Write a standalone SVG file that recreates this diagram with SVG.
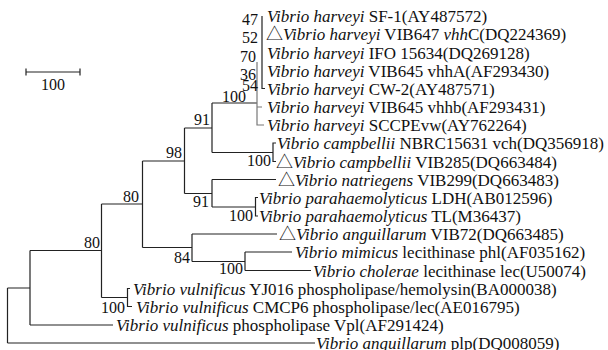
<svg xmlns="http://www.w3.org/2000/svg" width="608" height="350" viewBox="0 0 608 350">
<style>
.t{font-family:"Liberation Serif","Times New Roman",serif;font-size:17px;fill:#111}
.i{font-style:italic}
.tri{font-family:"Noto Sans CJK SC","DejaVu Sans",sans-serif;font-style:normal}
.b{font-family:"Liberation Serif","Times New Roman",serif;font-size:16px;fill:#111;text-anchor:end}
.l{fill:none;stroke:#222;stroke-width:1.2}
.g{fill:none;stroke:#777;stroke-width:1.2}
</style>
<rect width="608" height="350" fill="#fff"/>
<g id="scale">
<path class="l" d="M26,72 H80 M26,68.5 V75.5 M80,68.5 V75.5"/>
<text class="b" x="53" y="90" style="text-anchor:middle">100</text>
</g>
<g id="connectors">
<path class="l" d="M7.5,288 V343 M7.5,288 H30 M7.5,343 H315"/>
<path class="l" d="M30,250.5 V325 M30,250.5 H101.5 M30,325 H113"/>
<path class="l" d="M101.5,204 V297.5 M101.5,204 H142.5 M101.5,297.5 H127.5"/>
<path class="l" d="M130,288.5 H127.5 V306.5 H132"/>
<path class="l" d="M142.5,161 V247.5 M142.5,161 H184.5 M142.5,247.5 H192"/>
<path class="l" d="M184.5,128 V193.5 M184.5,128 H212 M184.5,193.5 H212"/>
<path class="l" d="M212,103 V152.5 M212,103 H257 M212,152.5 H273"/>
<path class="l" d="M276,143 H273 V161.5 H276"/>
<path class="g" d="M257,62 V125 H264 M257,107 H262"/>
<path class="l" d="M262,16 V88.5 H265"/>
<path class="l" d="M212,179.5 V207 M212,179.5 H276 M212,207 H255.5"/>
<path class="l" d="M258,197.5 H255.5 V216 H258"/>
<path class="l" d="M192,234 V261.5 M192,234 H277 M192,261.5 H245"/>
<path class="l" d="M245,252 V270.5 M245,252 H292 M245,270.5 H311"/>
</g>
<g id="bootstrap">
<text class="b" x="258" y="25">47</text>
<text class="b" x="258" y="43">52</text>
<text class="b" x="256" y="62">70</text>
<text class="b" x="256" y="80">36</text>
<text class="b" x="258" y="91">54</text>
<text class="b" x="246" y="102">100</text>
<text class="b" x="210" y="125">91</text>
<text class="b" x="271" y="166">100</text>
<text class="b" x="182" y="158">98</text>
<text class="b" x="209" y="207">91</text>
<text class="b" x="253" y="221">100</text>
<text class="b" x="139" y="202">80</text>
<text class="b" x="190" y="263">84</text>
<text class="b" x="243" y="274">100</text>
<text class="b" x="100" y="248">80</text>
<text class="b" x="125" y="313">100</text>
</g>
<g id="taxa">
<text id="n0" class="t" x="267" y="22"><tspan class="i">Vibrio harveyi</tspan> SF-1(AY487572)</text>
<text id="n1" class="t" x="266" y="40"><tspan class="tri">△</tspan><tspan class="i">Vibrio harveyi</tspan> VIB647 <tspan class="i">vhh</tspan>C(DQ224369)</text>
<text id="n2" class="t" x="267" y="58.5"><tspan class="i">Vibrio harveyi</tspan> IFO 15634(DQ269128)</text>
<text id="n3" class="t" x="267" y="76.5"><tspan class="i">Vibrio harveyi</tspan> VIB645 vhhA(AF293430)</text>
<text id="n4" class="t" x="267" y="94.5"><tspan class="i">Vibrio harveyi</tspan> CW-2(AY487571)</text>
<text id="n5" class="t" x="267" y="113"><tspan class="i">Vibrio harveyi</tspan> VIB645 vhhb(AF293431)</text>
<text id="n6" class="t" x="267" y="131"><tspan class="i">Vibrio harveyi</tspan> SCCPEvw(AY762264)</text>
<text id="n7" class="t" x="277" y="149"><tspan class="i">Vibrio campbellii</tspan> NBRC15631 vch(DQ356918)</text>
<text id="n8" class="t" x="276" y="167.5"><tspan class="tri">△</tspan><tspan class="i">Vibrio campbellii</tspan> VIB285(DQ663484)</text>
<text id="n9" class="t" x="278" y="185.5"><tspan class="tri">△</tspan><tspan class="i">Vibrio natriegens</tspan> VIB299(DQ663483)</text>
<text id="n10" class="t" x="259" y="203.5"><tspan class="i">Vibrio parahaemolyticus</tspan> LDH(AB012596)</text>
<text id="n11" class="t" x="259" y="222"><tspan class="i">Vibrio parahaemolyticus</tspan> TL(M36437)</text>
<text id="n12" class="t" x="279" y="240"><tspan class="tri">△</tspan><tspan class="i">Vibrio anguillarum</tspan> VIB72(DQ663485)</text>
<text id="n13" class="t" x="295" y="258"><tspan class="i">Vibrio mimicus</tspan> lecithinase phl(AF035162)</text>
<text id="n14" class="t" x="313" y="276.5"><tspan class="i">Vibrio cholerae</tspan> lecithinase lec(U50074)</text>
<text id="n15" class="t" x="133" y="294.5"><tspan class="i">Vibrio vulnificus</tspan> YJ016 phospholipase/hemolysin(BA000038)</text>
<text id="n16" class="t" x="136" y="312.5"><tspan class="i">Vibrio vulnificus</tspan> CMCP6 phospholipase/lec(AE016795)</text>
<text id="n17" class="t" x="116" y="331"><tspan class="i">Vibrio vulnificus</tspan> phospholipase Vpl(AF291424)</text>
<text id="n18" class="t" x="316" y="349"><tspan class="i">Vibrio anguillarum</tspan> plp(DQ008059)</text>
</g>
</svg>
